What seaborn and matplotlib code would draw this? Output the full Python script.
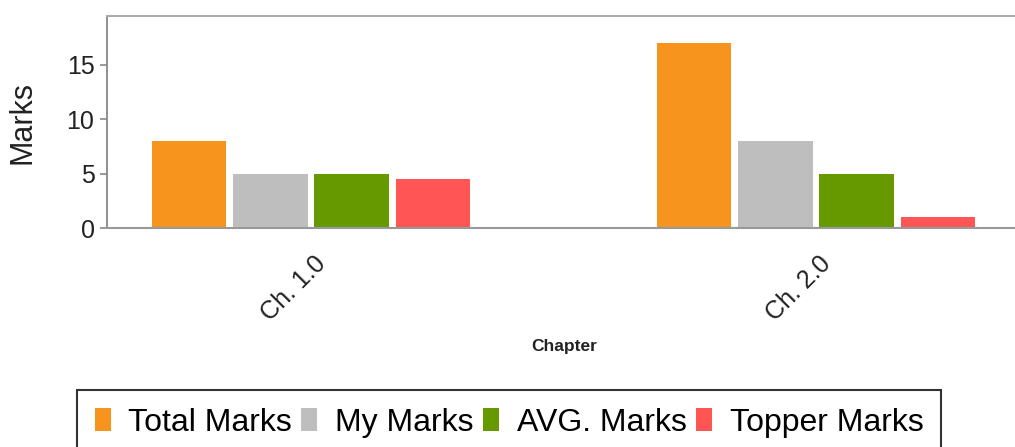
import numpy as np
import pandas as pd
import matplotlib
matplotlib.use("Agg")
import matplotlib.pyplot as plt
import matplotlib.transforms as mtransforms
import seaborn as sns

# ## data
chapters = ["Ch. 1.0", "Ch. 2.0"]
series = ["Total Marks", "My Marks", "AVG. Marks", "Topper Marks"]
total_marks = [8, 17]
my_marks = [5, 8]
avg_marks = [5, 5]
topper_marks = [4.5, 1]
colors = ["#F7941D", "#BEBEBE", "#669900", "#FF5555"]

df = pd.DataFrame({
    "Chapter": chapters * 4,
    "Series": [s for s in series for _ in chapters],
    "Marks": total_marks + my_marks + avg_marks + topper_marks,
})

sns.set_style("white")
plt.rcParams["font.family"] = ["Liberation Sans", "DejaVu Sans"]

fig = plt.figure(figsize=(10.15, 4.47), dpi=100)
ax = fig.add_axes([107 / 1015, 219 / 447, 908 / 1015, 212 / 447])

sns.barplot(data=df, x="Chapter", y="Marks", hue="Series", order=chapters,
            hue_order=series, palette=colors, saturation=1, width=0.645,
            gap=0.085, edgecolor="none", legend=True, ax=ax)

ax.set_xlim(-0.404, 1.394)
ax.set_ylim(0, 19.5)
ax.set_yticks([0, 5, 10, 15])

# spines
ax.spines["right"].set_visible(False)
ax.spines["top"].set_color("#AAAAAA")
ax.spines["top"].set_linewidth(1.5)
ax.spines["left"].set_color("#888888")
ax.spines["left"].set_linewidth(1.3)
ax.spines["bottom"].set_color("#999999")
ax.spines["bottom"].set_linewidth(1.5)
ax.spines["bottom"].set_linestyle((0, (4, 1)))

ax.tick_params(axis="y", length=5, width=1.2, color="#888888",
               labelsize=18, labelcolor="#222222", pad=4, left=True)
ax.tick_params(axis="x", length=0, labelsize=18, labelcolor="#222222", pad=17)

for lab in ax.get_xticklabels():
    lab.set_rotation(45)
    lab.set_ha("right")
    offset = mtransforms.ScaledTranslation(20 / 100, 0, fig.dpi_scale_trans)
    lab.set_transform(lab.get_transform() + offset)

ax.set_ylabel("Marks", fontsize=22, color="#222222")
ax.yaxis.set_label_coords(-0.077, 0.5)
ax.set_xlabel("Chapter", fontsize=12.5, fontweight="bold", color="#222222")
ax.xaxis.set_label_coords(0.504, -0.524)

# legend
handles, labels = ax.get_legend_handles_labels()
ax.get_legend().remove()
leg = fig.legend(handles, labels, loc="upper center", ncol=4,
                 bbox_to_anchor=(509 / 1015, 1 - 390 / 447),
                 fontsize=23, frameon=True, fancybox=False,
                 handlelength=0.5, handleheight=0.75, handletextpad=0.55,
                 columnspacing=0.3, borderpad=0.55, borderaxespad=0)
leg.get_frame().set_edgecolor("black")
leg.get_frame().set_linewidth(1.5)
for t in leg.get_texts():
    t.set_color("black")

plt.savefig("out.png", dpi=100)
